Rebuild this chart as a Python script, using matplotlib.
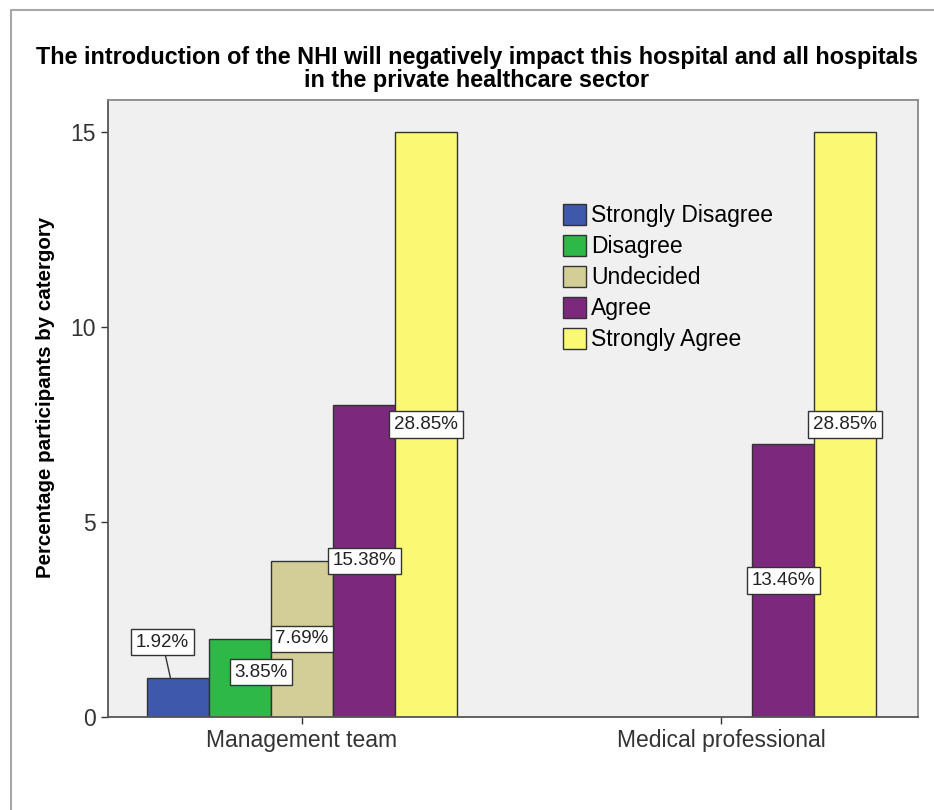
import numpy as np
import matplotlib.pyplot as plt
from matplotlib.patches import Rectangle

plt.rcParams['font.family'] = ['Liberation Sans', 'DejaVu Sans']

# data
groups = ['Management team', 'Medical professional']
responses = ['Strongly Disagree', 'Disagree', 'Undecided', 'Agree', 'Strongly Agree']
management = [1, 2, 4, 8, 15]
medical = [0, 0, 0, 7, 15]
total = 52
colors = ['#3E58AC', '#2EB848', '#D3CE97', '#7C287D', '#FBF873']

fig = plt.figure(figsize=(9.34, 8.1), dpi=100)
# outer frame
fig.patches.append(Rectangle((11 / 934, -0.1), 1.2, (800 / 810) + 0.1, transform=fig.transFigure,
                             fill=False, edgecolor='#A8A8A8', lw=1.5))
ax = fig.add_axes([108 / 934, 93 / 810, 810 / 934, 617 / 810])
ax.set_facecolor('#F0F0F0')

w = 0.148
x = np.arange(len(groups))
values = [management, medical]
for k, resp in enumerate(responses):
    heights = [v[k] for v in values]
    xs = x + (k - 2) * w
    for xi, h in zip(xs, heights):
        if h > 0:
            ax.bar(xi, h, width=w, color=colors[k], edgecolor='#333333', lw=1)
    ax.bar(np.nan, 0, color=colors[k], edgecolor='#333333', label=resp)

# data labels (SPSS style, mid-bar with collision shifts)
label_offsets = {(0, 1): (0.05, 0.15)}
bbox = dict(boxstyle='square,pad=0.25', fc='white', ec='#333333', lw=1)
for g in range(len(groups)):
    for k in range(len(responses)):
        h = values[g][k]
        if h == 0:
            continue
        dx, dy = label_offsets.get((g, k), (0, 0))
        bx = x[g] + (k - 2) * w
        txt = f'{100 * h / total:.2f}%'
        if (g, k) == (0, 0):
            ax.annotate(txt, xy=(bx - 0.018, h), xytext=(bx - 0.037, h + 0.92),
                        ha='center', va='center', fontsize=13.5, color='#222222', bbox=bbox,
                        arrowprops=dict(arrowstyle='-', color='#333333', lw=1, shrinkA=0, shrinkB=0))
        else:
            ax.text(bx + dx, h / 2 + dy, txt, ha='center', va='center', fontsize=13.5,
                    color='#222222', bbox=bbox)

ax.set_xlim(-0.463, 1.47)
ax.set_ylim(0, 15.82)
ax.set_yticks([0, 5, 10, 15])
ax.set_xticks(x)
ax.set_xticklabels(groups)
ax.tick_params(axis='both', labelsize=16.5, labelcolor='#333333', color='#333333', length=5, width=1)
for side in ['left', 'bottom']:
    ax.spines[side].set_color('#555555')
    ax.spines[side].set_linewidth(1.3)
for side in ['top', 'right']:
    ax.spines[side].set_color('#888888')
    ax.spines[side].set_linewidth(1.3)

ax.set_ylabel('Percentage participants by catergory', fontsize=14.8, fontweight='bold')
ax.yaxis.set_label_coords(-0.066, 0.518)
fig.text(477 / 934, 1 - 69 / 810,
         'The introduction of the NHI will negatively impact this hospital and all hospitals\n'
         'in the private healthcare sector', ha='center', va='center', fontsize=16.8,
         fontweight='bold', linespacing=1.05)

ax.legend(loc='upper left', bbox_to_anchor=(0.55, 0.847), frameon=False, fontsize=16.5,
          handlelength=1.0, handleheight=1.05, handletextpad=0.25, labelspacing=0.33,
          borderaxespad=0)

fig.savefig('out.png', dpi=100)
